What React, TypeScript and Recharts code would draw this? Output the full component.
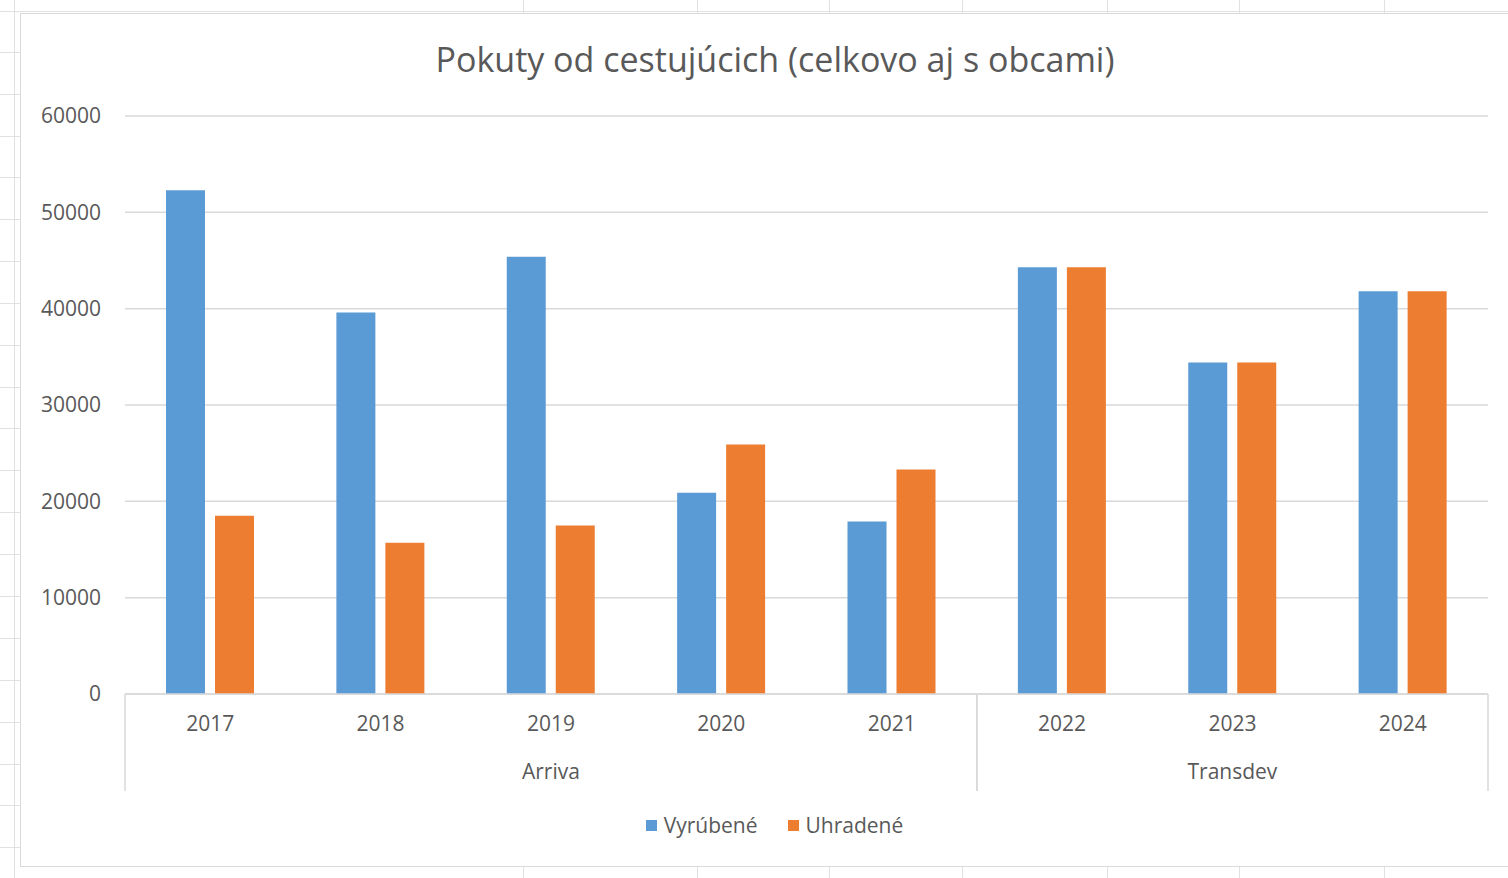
import React from 'react';
import { BarChart, Bar, XAxis, YAxis, CartesianGrid, Legend } from 'recharts';

const categories = ['2017', '2018', '2019', '2020', '2021', '2022', '2023', '2024'];
const groups = ['Arriva', 'Arriva', 'Arriva', 'Arriva', 'Arriva', 'Transdev', 'Transdev', 'Transdev'];
const vyrubene = [52300, 39600, 45400, 20900, 17900, 44300, 34400, 41800];
const uhradene = [18500, 15700, 17500, 25900, 23300, 44300, 34400, 41800];
const yTicks = [0, 10000, 20000, 30000, 40000, 50000, 60000];
const seriesNames = ['Vyrúbené', 'Uhradené'];
const seriesColors = ['#5b9bd5', '#ed7d31'];

// spreadsheet cells behind the chart
const sheetRows = [52, 94, 136, 177, 219, 261, 303, 345, 387, 428, 470, 512, 554, 596, 638, 680, 722, 764, 805, 847];
const sheetCols = [523, 697, 829, 962, 1107, 1239, 1384];

const data = categories.map((year, i) => ({
  year,
  group: groups[i],
  vyrubene: vyrubene[i],
  uhradene: uhradene[i],
}));

const FONT = "'Open Sans', sans-serif";
const TEXT = '#595959';
const LINE = '#d9d9d9';

function YearTick(props: any) {
  const { x, y, payload } = props;
  const i = payload.index;
  const half = payload.offset ?? 85;
  const first = i === 0 || groups[i] !== groups[i - 1];
  const last = i === groups.length - 1 || groups[i] !== groups[i + 1];
  const members = groups.map((g, k) => (g === groups[i] ? k : -1)).filter((k) => k >= 0);
  const middle = members[Math.floor(members.length / 2)] === i;
  return (
    <g>
      <text x={x} y={y + 29} textAnchor="middle" dominantBaseline="central" fill={TEXT} fontSize={21} fontFamily={FONT}>
        {payload.value}
      </text>
      {middle && (
        <text x={x} y={y + 77} textAnchor="middle" dominantBaseline="central" fill={TEXT} fontSize={21} fontFamily={FONT}>
          {groups[i]}
        </text>
      )}
      {first && <line x1={x - half} x2={x - half} y1={y} y2={y + 97} stroke={LINE} strokeWidth={1.5} />}
      {last && <line x1={x + half} x2={x + half} y1={y} y2={y + 97} stroke={LINE} strokeWidth={1.5} />}
    </g>
  );
}

function LegendBox() {
  return (
    <div
      style={{
        display: 'flex',
        justifyContent: 'center',
        gap: 30,
        paddingLeft: 40,
        fontFamily: FONT,
        fontSize: 21,
        color: TEXT,
      }}
    >
      {seriesNames.map((name, i) => (
        <div key={name} style={{ display: 'flex', alignItems: 'center', gap: 7 }}>
          <span style={{ display: 'inline-block', width: 11, height: 11, background: seriesColors[i] }} />
          <span>{name}</span>
        </div>
      ))}
    </div>
  );
}

export default function App() {
  return (
    <div style={{ position: 'absolute', left: 0, top: 0, width: 1508, height: 878, overflow: 'hidden', background: '#fff' }}>
      <div style={{ position: 'absolute', left: 14, top: 0, width: 1, height: 878, background: '#e1e1e1' }} />
      <div style={{ position: 'absolute', left: 0, top: 11, width: 1508, height: 1, background: '#e1e1e1' }} />
      {sheetRows.map((r) => (
        <div key={r} style={{ position: 'absolute', left: 0, top: r, width: 20, height: 1, background: '#e1e1e1' }} />
      ))}
      {sheetCols.map((c) => (
        <div key={c} style={{ position: 'absolute', left: c, top: 0, width: 1, height: 878, background: '#e1e1e1' }} />
      ))}
      <div
        style={{
          position: 'absolute',
          left: 20,
          top: 13,
          width: 1508,
          height: 854,
          background: '#fff',
          border: '1.5px solid #d9d9d9',
          boxSizing: 'border-box',
        }}
      >
        <div
          style={{
            position: 'absolute',
            left: 0,
            top: 22,
            width: 1508,
            textAlign: 'center',
            fontFamily: FONT,
            fontSize: 34,
            color: TEXT,
          }}
        >
          Pokuty od cestujúcich (celkovo aj s obcami)
        </div>
        <BarChart
          width={1508}
          height={854}
          data={data}
          margin={{ top: 102, right: 41, left: 0, bottom: 36 }}
          barSize={39}
          barGap={10}
        >
          <CartesianGrid stroke={LINE} strokeWidth={1.5} vertical={false} />
          <XAxis
            dataKey="year"
            axisLine={{ stroke: LINE, strokeWidth: 1.5 }}
            tickLine={false}
            tickSize={0}
            tickMargin={0}
            height={110}
            interval={0}
            tick={<YearTick />}
          />
          <YAxis
            width={104}
            domain={[0, 60000]}
            ticks={yTicks}
            axisLine={false}
            tickLine={false}
            tickSize={0}
            tickMargin={24}
            tick={{ fill: TEXT, fontSize: 21, fontFamily: FONT }}
          />
          <Legend verticalAlign="bottom" content={<LegendBox />} wrapperStyle={{ top: 797 }} />
          <Bar dataKey="vyrubene" name={seriesNames[0]} fill={seriesColors[0]} isAnimationActive={false} />
          <Bar dataKey="uhradene" name={seriesNames[1]} fill={seriesColors[1]} isAnimationActive={false} />
        </BarChart>
      </div>
    </div>
  );
}
